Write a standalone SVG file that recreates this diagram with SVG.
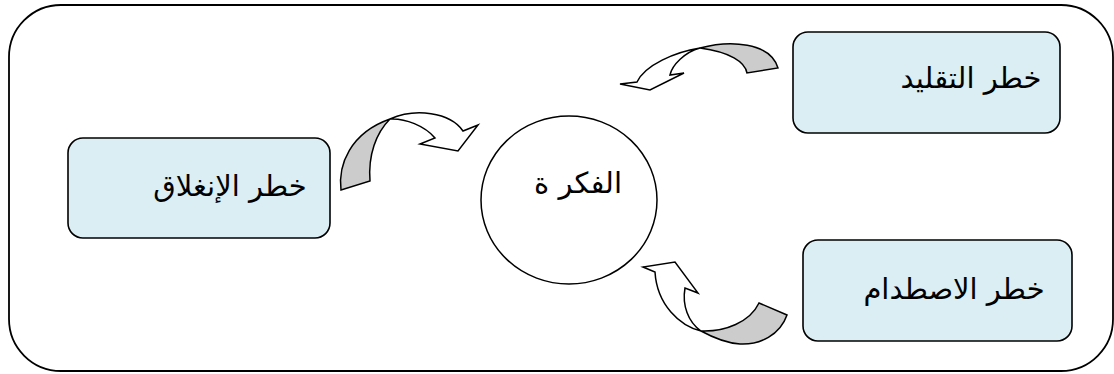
<svg xmlns="http://www.w3.org/2000/svg" width="1114" height="374" viewBox="0 0 1114 374">
<style>
.box{fill:#daeef3;stroke:#000;stroke-width:1.6}
.lbl{font-family:"DejaVu Sans","Liberation Sans",sans-serif;font-size:29px;fill:#000;text-anchor:middle}
.aw{fill:#fff;stroke:#000;stroke-width:1.5;stroke-linejoin:miter}
.ag{fill:#cccccc;stroke:#000;stroke-width:1.5}
</style>
<rect x="9" y="5" width="1104" height="366" rx="52" ry="52" fill="#fff" stroke="#000" stroke-width="1.8"/>
<g id="connectors">
  <g id="arrow-left">
    <path class="ag" d="M341,190 C338,165 350,133 390,119 C376,133 368,155 370,181 Z"/>
    <path class="aw" d="M390,119 C415,108 450,112 463,131 L478,125 L458,151 L420,144 L435,138 C425,126 405,118 390,119 Z"/>
  </g>
  <g id="arrow-top">
    <path class="ag" d="M700,48 C730,40 770,42 778,68 L747,73 C745,62 730,52 700,48 Z"/>
    <path class="aw" d="M700,48 C675,52 645,65 637,82 L620,84 L650,90 L684,73 L670,75 C672,65 685,52 700,48 Z"/>
  </g>
  <g id="arrow-bottom">
    <path class="ag" d="M701,331 C725,332 750,322 759,303 L787,315 C780,335 760,345 740,344 C725,343 712,337 701,331 Z"/>
    <path class="aw" d="M701,331 C680,326 657,305 655,272 L643,267 L675,262 L698,293 L685,288 C682,305 688,322 701,331 Z"/>
  </g>
</g>
<g id="node-idea">
  <ellipse cx="569" cy="200" rx="88" ry="84" fill="#fff" stroke="#000" stroke-width="1.5"/>
  <text class="lbl" x="578" y="193">الفكر ة</text>
</g>
<g id="node-closure">
  <rect class="box" x="68" y="138" width="262" height="100" rx="15" ry="15"/>
  <text class="lbl" x="230" y="196">خطر الإنغلاق</text>
</g>
<g id="node-imitation">
  <rect class="box" x="793" y="32" width="267" height="101" rx="15" ry="15"/>
  <text class="lbl" x="971" y="88">خطر التقليد</text>
</g>
<g id="node-clash">
  <rect class="box" x="803" y="240" width="269" height="101" rx="15" ry="15"/>
  <text class="lbl" x="954" y="299">خطر الاصطدام</text>
</g>
</svg>
